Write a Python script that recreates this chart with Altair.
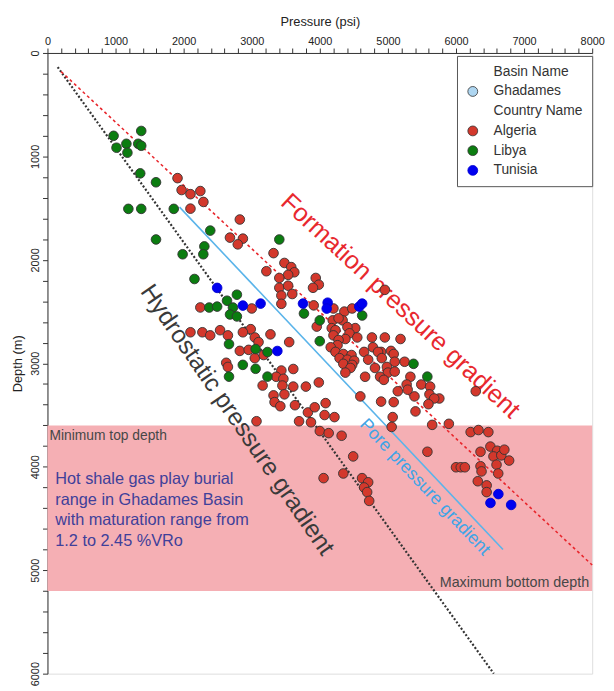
import altair as alt
import pandas as pd

FONT = "Liberation Sans"

# ---------------- data ----------------
ALGERIA_PSI = [1910, 1970, 2100, 2245, 2290, 2100, 2825, 2680, 2870, 2795, 3320, 3215, 3480, 3580, 3625,
               3535, 3405, 3405, 3535, 3435, 3595, 3435, 2245, 3000, 3940, 3985, 3900, 4955, 3910, 4200,
               4360, 4475, 4335, 4190, 4275, 3955, 4175, 4520, 4230, 4405, 4200, 4435, 4550, 4375, 4275,
               4765, 4955, 5185, 4260, 4160, 4780, 4900, 4230, 4345, 4465, 4290, 4405, 4505, 4345, 4475,
               4450, 4650, 4710, 4855, 4910, 5045, 5085, 5100, 5245, 2985, 3045, 3275, 3100, 3550, 2100,
               2275, 2390, 2535, 2650, 2870, 2825, 2955, 3045, 3175, 2625, 2650, 3435, 3610, 3360, 3465,
               3160, 3450, 3610, 3795, 3985, 3320, 3480, 3335, 3420, 3635, 3825, 3925, 4085, 4070, 4215,
               3695, 3870, 3070, 4000, 4130, 4320, 4595, 4375, 4665, 4985, 4810, 5000, 5100, 4885, 4940,
               5330, 5275, 5290, 5145, 5490, 5620, 5610, 5390, 5085, 5755, 5680, 5595, 4900, 5405, 5070,
               5055, 5650, 5895, 6290, 6215, 6330, 6475, 4490, 4345, 4055, 4620, 4710, 4650, 4695, 4725,
               5580, 6360, 6505, 6605, 6550, 6665, 6710, 6780, 6000, 6070, 6130, 6360, 6375, 6595, 6620,
               6320, 6450, 6450]
ALGERIA_DEPTH = [1210, 1325, 1365, 1335, 1440, 1505, 1610, 1785, 1795, 1850, 1935, 2110, 2030, 2070, 2120,
                 2145, 2175, 2270, 2250, 2345, 2330, 2425, 2460, 2470, 2175, 2240, 2270, 2290, 2440, 2470,
                 2500, 2470, 2585, 2585, 2565, 2645, 2660, 2660, 2680, 2650, 2730, 2710, 2750, 2765, 2775,
                 2750, 2750, 2765, 2825, 2845, 2845, 2890, 2890, 2910, 2920, 2950, 2965, 2975, 3005, 3015,
                 3045, 2890, 2965, 2890, 2950, 2880, 2910, 2985, 2985, 2670, 2750, 2720, 2795, 2795, 2700,
                 2700, 2730, 2680, 2730, 2700, 2880, 2870, 2950, 2920, 2995, 3035, 3070, 3055, 3130, 3150,
                 3215, 3215, 3225, 3225, 3185, 3310, 3300, 3375, 3415, 3405, 3475, 3425, 3385, 3500, 3520,
                 3560, 3570, 3560, 3655, 3675, 3700, 3320, 3090, 3130, 3035, 3045, 3090, 3080, 3130, 3160,
                 3130, 3205, 3255, 3270, 3205, 3225, 3300, 3320, 3375, 3340, 3340, 3395, 3370, 3465, 3520,
                 3615, 3595, 3585, 3270, 3665, 3645, 3665, 3900, 4065, 4110, 4110, 4150, 4200, 4245, 4330,
                 3855, 3855, 3805, 3845, 3900, 3890, 3835, 3940, 4005, 4005, 4005, 3995, 4045, 3980, 4065,
                 4140, 4180, 4245]

LIBYA_PSI = [971, 1014, 1159, 1174, 1377, 1333, 1377, 1362, 1594, 1188, 1377, 1855, 1594, 2391, 2304,
             2289, 1985, 3405, 2159, 2782, 2637, 2376, 2492, 2724, 2681, 2782, 3767, 3999, 4622, 3999,
             2666, 3057, 3231, 2869, 3057, 2666, 3231, 5376, 5579]
LIBYA_DEPTH = [801, 916, 878, 964, 754, 878, 897, 1164, 1250, 1507, 1507, 1507, 1803, 1717, 1870,
               1946, 1946, 1803, 2185, 2337, 2395, 2461, 2452, 2461, 2528, 2547, 2519, 2585, 2538, 2786,
               2814, 2862, 2891, 3015, 3053, 3129, 3129, 3005, 3129]

TUNISIA_PSI = [2492, 2869, 3130, 3753, 4115, 4101, 4579, 4622, 3376, 6622, 6506, 6810]
TUNISIA_DEPTH = [2271, 2442, 2423, 2423, 2414, 2471, 2452, 2423, 2881, 4264, 4350, 4369]

LEGEND_ITEMS = ["Basin Name", "Ghadames", "Country Name", "Algeria", "Libya", "Tunisia"]
LEGEND_FILLS = ["transparent", "#aed6f1", "transparent", "#d3382c", "#0b7d10", "#0000f0"]
LEGEND_STROKES = ["transparent", "#333333", "transparent", "#333333", "#333333", "#0000d0"]

# gradient lines (start / end in psi and m)
HYDRO_PSI = [150, 6555]
HYDRO_DEPTH = [137, 6000]
FORMATION_PSI = [200, 8000]
FORMATION_DEPTH = [180, 4950]
PORE_PSI = [1940, 6690]
PORE_DEPTH = [1490, 4800]

# hot shale gas burial range
BAND_TOP = 3600
BAND_BOTTOM = 5200

PARAGRAPH = ["Hot shale gas play burial", "range in Ghadames Basin",
             "with maturation range from", "1.2 to 2.45 %VRo"]
PARAGRAPH_DEPTH = [4120, 4320, 4515, 4715]

# ---------------- tables ----------------
pts = pd.DataFrame(
    [("Algeria", p, d) for p, d in zip(ALGERIA_PSI, ALGERIA_DEPTH)]
    + [("Libya", p, d) for p, d in zip(LIBYA_PSI, LIBYA_DEPTH)]
    + [("Tunisia", p, d) for p, d in zip(TUNISIA_PSI, TUNISIA_DEPTH)],
    columns=["country", "psi", "depth"],
)

xscale = alt.Scale(domain=[0, 8000], nice=False, zero=False)
yscale = alt.Scale(domain=[0, 6000], nice=False, zero=False, reverse=True)

xaxis = alt.Axis(
    orient="top", title="Pressure (psi)", values=list(range(0, 8001, 200)),
    labelExpr="datum.value % 1000 === 0 ? datum.label : ''", format="d",
    labelFontSize=11, titleFontSize=13, titleFontWeight="normal", titlePadding=7,
    tickSize=5, labelPadding=2, grid=False, labelOverlap=False, labelFlush=False,
    domainColor="#333333", tickColor="#333333", labelColor="#222222", titleColor="#222222",
    labelFont=FONT, titleFont=FONT,
)
yaxis = alt.Axis(
    orient="left", title="Depth (m)", values=list(range(0, 6001, 200)),
    labelExpr="datum.value % 1000 === 0 ? datum.label : ''", format="d",
    labelAngle=270, labelAlign="center", labelBaseline="bottom",
    labelFontSize=11, titleFontSize=13, titleFontWeight="normal", titlePadding=5,
    tickSize=5, labelPadding=2, grid=False, labelOverlap=False, labelFlush=False,
    domainColor="#333333", tickColor="#333333", labelColor="#222222", titleColor="#222222",
    labelFont=FONT, titleFont=FONT,
)

X = alt.X("psi:Q", scale=xscale, axis=xaxis)
Y = alt.Y("depth:Q", scale=yscale, axis=yaxis)

band = alt.Chart(pd.DataFrame({"psi": [0], "psi2": [8000], "depth": [BAND_TOP], "depth2": [BAND_BOTTOM]})).mark_rect(
    color="#f5afb4"
).encode(x=X, x2="psi2:Q", y=Y, y2="depth2:Q")

min_txt = alt.Chart(pd.DataFrame({"psi": [30], "depth": [3700], "t": ["Minimum top depth"]})).mark_text(
    align="left", baseline="middle", fontSize=14, font=FONT, color="#474747"
).encode(x=X, y=Y, text="t:N")

max_txt = alt.Chart(pd.DataFrame({"psi": [7955], "depth": [5125], "t": ["Maximum bottom depth"]})).mark_text(
    align="right", baseline="middle", fontSize=14.5, font=FONT, color="#474747"
).encode(x=X, y=Y, text="t:N")

para = alt.Chart(pd.DataFrame({"psi": [115] * len(PARAGRAPH), "depth": PARAGRAPH_DEPTH, "t": PARAGRAPH})).mark_text(
    align="left", baseline="middle", fontSize=16.5, font=FONT, color="#40409a"
).encode(x=X, y=Y, text="t:N")

def line_df(ps, ds):
    return pd.DataFrame({"psi": ps, "depth": ds, "o": list(range(len(ps)))})

hydro = alt.Chart(line_df(HYDRO_PSI, HYDRO_DEPTH)).mark_line(
    color="#333333", strokeWidth=2.2, strokeDash=[2, 2]
).encode(x=X, y=Y, order="o:O")
formation = alt.Chart(line_df(FORMATION_PSI, FORMATION_DEPTH)).mark_line(
    color="#e8262c", strokeWidth=1.6, strokeDash=[3, 3]
).encode(x=X, y=Y, order="o:O")
pore = alt.Chart(line_df(PORE_PSI, PORE_DEPTH)).mark_line(
    color="#5ab4ea", strokeWidth=1.6
).encode(x=X, y=Y, order="o:O")

f_lbl = alt.Chart(pd.DataFrame({"psi": [5185], "depth": [2445], "t": ["Formation pressure gradient"]})).mark_text(
    align="center", baseline="middle", fontSize=25.5, font=FONT, color="#e8282e", angle=43
).encode(x=X, y=Y, text="t:N")
h_lbl = alt.Chart(pd.DataFrame({"psi": [2790], "depth": [3545], "t": ["Hydrostatic pressure gradient"]})).mark_text(
    align="center", baseline="middle", fontSize=25, font=FONT, color="#3a3a3a", angle=55.5
).encode(x=X, y=Y, text="t:N")
p_lbl = alt.Chart(pd.DataFrame({"psi": [5540], "depth": [4200], "t": ["Pore pressure gradient"]})).mark_text(
    align="center", baseline="middle", fontSize=18, font=FONT, color="#3fa4e6", angle=46.5
).encode(x=X, y=Y, text="t:N")

legend = alt.Legend(
    title=None, orient="none", legendX=415, legendY=3, padding=9, rowPadding=6,
    labelOffset=14, symbolSize=100, symbolType="circle", symbolStrokeWidth=0.8,
    labelFontSize=14, labelFont=FONT, labelColor="#333333",
    strokeColor="#555555", fillColor="white", labelLimit=200,
)

points = alt.Chart(pts).mark_point(filled=True, size=95, strokeWidth=0.9, opacity=1).encode(
    x=X, y=Y,
    fill=alt.Fill("country:N", scale=alt.Scale(domain=LEGEND_ITEMS, range=LEGEND_FILLS), legend=legend),
    stroke=alt.Stroke("country:N", scale=alt.Scale(domain=LEGEND_ITEMS, range=LEGEND_STROKES), legend=legend),
)

chart = alt.layer(band, min_txt, max_txt, para, hydro, formation, pore, f_lbl, h_lbl, p_lbl, points).properties(
    width=552, height=629,
    autosize=alt.AutoSizeParams(type="none"),
    padding={"left": 40, "top": 41, "right": 14, "bottom": 12},
).configure_view(stroke="#777777", strokeWidth=1.5).configure(font=FONT)

chart.save("out.html", embed_options={"renderer": "svg", "actions": False})
